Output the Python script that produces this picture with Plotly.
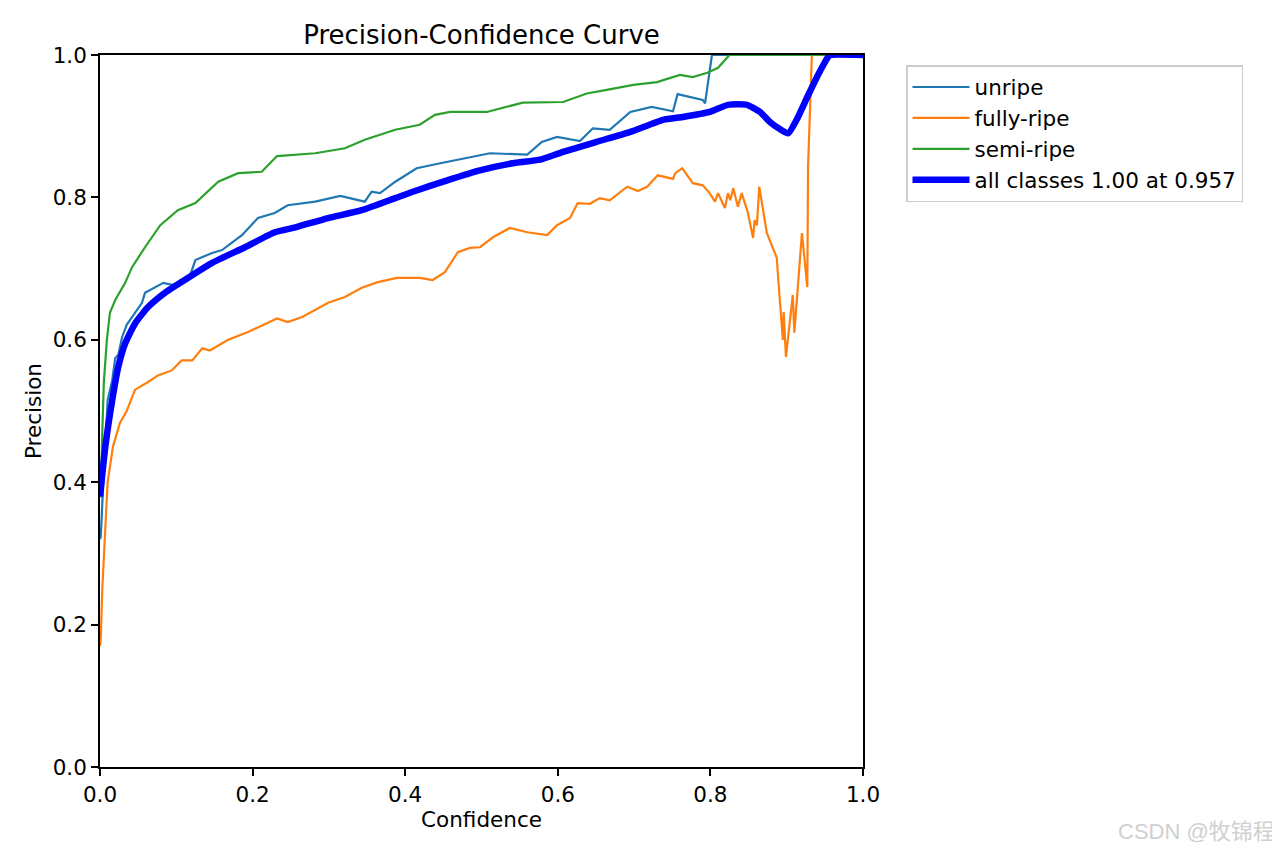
import plotly.graph_objects as go

# ---- data ----
unripe_x = [0.0, 0.001, 0.004, 0.007, 0.010, 0.016, 0.020, 0.024, 0.029, 0.035, 0.046, 0.055, 0.059,
            0.083, 0.096, 0.118, 0.125, 0.147, 0.160, 0.186, 0.207, 0.229, 0.246, 0.282, 0.315, 0.347,
            0.356, 0.367, 0.387, 0.415, 0.446, 0.478, 0.511, 0.560, 0.579, 0.599, 0.629, 0.646, 0.668,
            0.695, 0.723, 0.751, 0.757, 0.790, 0.793, 0.802, 1.0]
unripe_y = [0.32, 0.323, 0.393, 0.46, 0.515, 0.543, 0.574, 0.579, 0.604, 0.621, 0.638, 0.652, 0.666,
            0.68, 0.677, 0.69, 0.712, 0.722, 0.726, 0.747, 0.771, 0.778, 0.789, 0.794, 0.802, 0.794,
            0.808, 0.806, 0.822, 0.841, 0.848, 0.855, 0.862, 0.86, 0.878, 0.885, 0.879, 0.897, 0.895,
            0.92, 0.927, 0.921, 0.945, 0.937, 0.932, 1.0, 1.0]

semi_x = [0.0, 0.001, 0.003, 0.005, 0.009, 0.013, 0.020, 0.022, 0.033, 0.042, 0.059, 0.079, 0.102,
          0.125, 0.155, 0.181, 0.212, 0.232, 0.282, 0.321, 0.347, 0.387, 0.419, 0.439, 0.459, 0.507,
          0.554, 0.607, 0.638, 0.664, 0.699, 0.730, 0.760, 0.777, 0.796, 0.810, 0.822, 0.825, 1.0]
semi_y = [0.38, 0.38, 0.47, 0.54, 0.60, 0.638, 0.656, 0.66, 0.68, 0.702, 0.73, 0.761, 0.782,
          0.792, 0.822, 0.834, 0.836, 0.858, 0.862, 0.869, 0.881, 0.895, 0.902, 0.916, 0.92, 0.92,
          0.933, 0.934, 0.946, 0.951, 0.958, 0.962, 0.972, 0.969, 0.975, 0.982, 0.996, 1.0, 1.0]

fully_x = [0.0, 0.001, 0.003, 0.007, 0.010, 0.017, 0.026, 0.035, 0.046, 0.062, 0.076, 0.094, 0.107,
           0.121, 0.134, 0.144, 0.168, 0.194, 0.232, 0.246, 0.265, 0.299, 0.321, 0.343, 0.364, 0.389,
           0.419, 0.436, 0.452, 0.469, 0.485, 0.498, 0.515, 0.537, 0.560, 0.586, 0.599, 0.616, 0.626,
           0.642, 0.655, 0.668, 0.691, 0.705, 0.717, 0.731, 0.751, 0.754, 0.763, 0.777, 0.790, 0.799,
           0.806, 0.810, 0.819, 0.823, 0.826, 0.830, 0.836, 0.841, 0.849, 0.856, 0.858, 0.861, 0.864,
           0.874, 0.887, 0.889, 0.893, 0.895, 0.896, 0.899, 0.908, 0.910, 0.920, 0.927, 0.928, 0.933, 1.0]
fully_y = [0.17, 0.18, 0.25, 0.33, 0.40, 0.45, 0.483, 0.50, 0.53, 0.54, 0.55, 0.557, 0.571,
           0.571, 0.588, 0.585, 0.60, 0.611, 0.63, 0.625, 0.632, 0.652, 0.66, 0.673, 0.681, 0.687,
           0.687, 0.684, 0.695, 0.723, 0.729, 0.73, 0.744, 0.757, 0.751, 0.747, 0.761, 0.771, 0.792,
           0.791, 0.799, 0.796, 0.815, 0.809, 0.815, 0.831, 0.826, 0.834, 0.841, 0.82, 0.817, 0.806,
           0.794, 0.806, 0.785, 0.806, 0.796, 0.813, 0.787, 0.806, 0.779, 0.743, 0.768, 0.761, 0.815,
           0.75, 0.715, 0.684, 0.631, 0.60, 0.639, 0.576, 0.663, 0.61, 0.75, 0.674, 0.843, 1.0, 1.0]

all_x = [0.0, 0.007, 0.016, 0.024, 0.033, 0.046, 0.063, 0.085, 0.111, 0.147, 0.190, 0.229, 0.256,
         0.299, 0.343, 0.387, 0.410, 0.455, 0.498, 0.541, 0.577, 0.607, 0.651, 0.695, 0.738, 0.764,
         0.799, 0.823, 0.848, 0.865, 0.878, 0.891, 0.902, 0.913, 0.927, 0.941, 0.954, 0.957, 1.0]
all_y = [0.38, 0.45, 0.515, 0.562, 0.595, 0.623, 0.646, 0.666, 0.684, 0.708, 0.73, 0.751, 0.758,
         0.771, 0.782, 0.799, 0.808, 0.824, 0.838, 0.848, 0.853, 0.864, 0.878, 0.892, 0.909, 0.913,
         0.92, 0.93, 0.93, 0.92, 0.906, 0.896, 0.89, 0.909, 0.941, 0.972, 0.997, 1.0, 1.0]

tick_vals = [0.0, 0.2, 0.4, 0.6, 0.8, 1.0]
tick_text = ["0.0", "0.2", "0.4", "0.6", "0.8", "1.0"]

FONT = "DejaVu Sans"
fs = 21.5

fig = go.Figure()
fig.add_trace(go.Scatter(x=unripe_x, y=unripe_y, mode="lines", name="unripe",
                         line=dict(color="#1f77b4", width=2.2)))
fig.add_trace(go.Scatter(x=fully_x, y=fully_y, mode="lines", name="fully-ripe",
                         line=dict(color="#ff7f0e", width=2.2)))
fig.add_trace(go.Scatter(x=semi_x, y=semi_y, mode="lines", name="semi-ripe",
                         line=dict(color="#2ca02c", width=2.2)))
fig.add_trace(go.Scatter(x=all_x, y=all_y, mode="lines", name="all classes 1.00 at 0.957",
                         line=dict(color="#0000ff", width=6.5, shape="spline", smoothing=0.5)))

axis_common = dict(
    range=[0, 1], tickvals=tick_vals, ticktext=tick_text,
    showline=True, linecolor="black", linewidth=1.7, mirror=True,
    ticks="outside", ticklen=7, tickwidth=1.7, tickcolor="black",
    showgrid=False, zeroline=False,
    tickfont=dict(family=FONT, size=fs, color="black"),
)

W, H = 1272, 845  # page body has an 8px margin
fig.update_layout(
    width=W, height=H,
    margin=dict(l=92, r=W - 92 - 763, t=47, b=H - 47 - 712),
    paper_bgcolor="white", plot_bgcolor="white",
    font=dict(family=FONT, size=fs, color="black"),
    title=dict(text="Precision-Confidence Curve", x=0.5, xref="paper", xanchor="center",
               y=1 - 27 / H, yanchor="middle", font=dict(family=FONT, size=26, color="black")),
    xaxis=dict(**axis_common, title=dict(text="Confidence", standoff=5,
                                         font=dict(family=FONT, size=fs))),
    yaxis=dict(**axis_common, title=dict(text="Precision", standoff=5,
                                         font=dict(family=FONT, size=fs))),
    legend=dict(x=(906 - 100) / 763, y=(767 - 65) / 712, xanchor="left", yanchor="top",
                bgcolor="white", bordercolor="#cccccc", borderwidth=1.5, itemwidth=57,
                font=dict(family=FONT, size=fs, color="black"), tracegroupgap=0),
    showlegend=True,
)

fig.add_annotation(text="CSDN @牧锦程", xref="paper", yref="paper",
                   x=(1277 - 100) / 763, y=(767 - 832) / 712, xanchor="right", yanchor="middle",
                   showarrow=False,
                   font=dict(family="Liberation Sans, Noto Sans CJK SC", size=22, color="#d0d0d0"))

fig.write_html("out.html")
